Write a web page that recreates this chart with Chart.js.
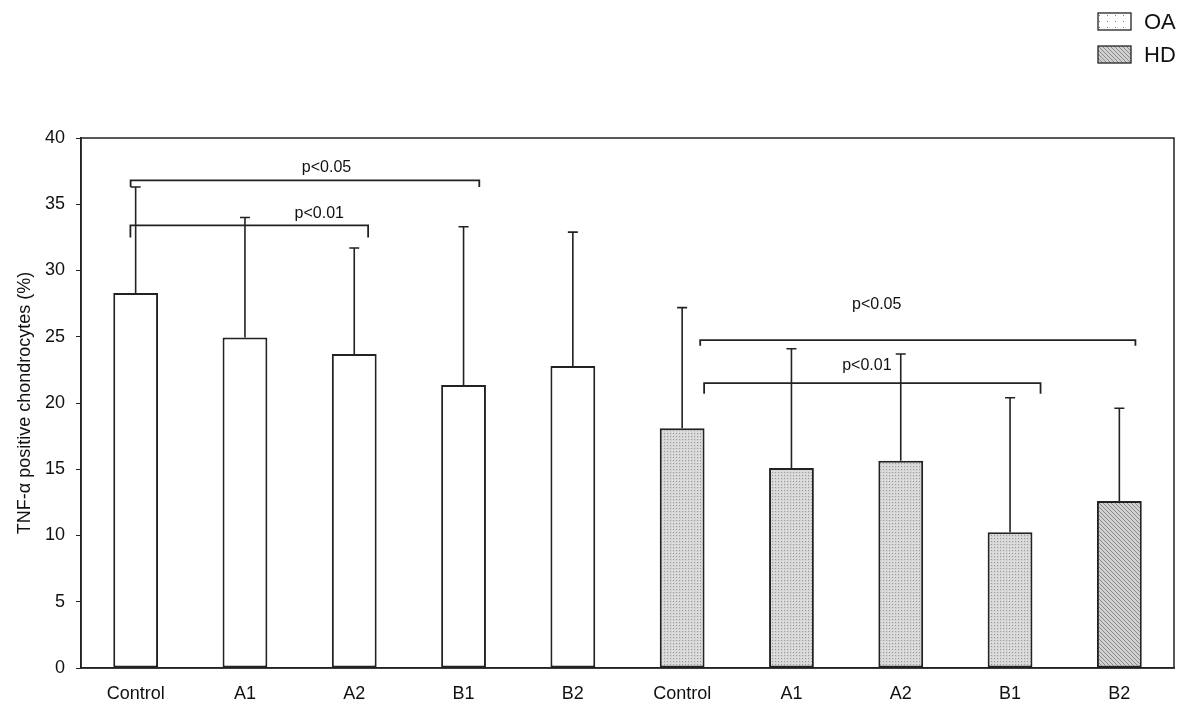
<!DOCTYPE html>
<html>
<head>
<meta charset="utf-8">
<script src="https://cdn.jsdelivr.net/npm/chart.js@4.4.1/dist/chart.umd.min.js"></script>
<style>
  html,body{margin:0;padding:0;background:#fff;}
  #wrap{width:1200px;height:709px;position:relative;}
</style>
</head>
<body>
<div id="wrap"><canvas id="c" width="1200" height="709"></canvas></div>
<script>
// categories (OA group then HD group)
const CATEGORIES = ['Control','A1','A2','B1','B2','Control','A1','A2','B1','B2'];
// mean % of TNF-alpha positive chondrocytes
const MEANS = [28.3, 24.95, 23.7, 21.35, 22.8, 18.1, 15.1, 15.65, 10.25, 12.6];
// standard deviation (drawn upwards only)
const SD = [8.0, 9.05, 8.0, 11.95, 10.1, 9.1, 9.0, 8.05, 10.15, 7.0];
// fill style per bar: white / stipple / hatch
const FILLS = ['white','white','white','white','white','stipple','stipple','stipple','stipple','hatch'];
const Y_TICKS = [0,5,10,15,20,25,30,35,40];
const LEGEND_LABELS = ['OA','HD'];
const LEGEND_FILLS = ['dots','hatch'];

// significance brackets: from/to are fractional category positions
const BRACKETS = [
  {from:-0.046, to:3.144, y:36.8, drop:36.3, label:'p<0.05', lx:1.746, ly:37.8},
  {from:-0.048, to:2.127, y:33.4, drop:32.5, label:'p<0.01', lx:1.68, ly:34.3},
  {from:5.165, to:9.147, y:24.75, drop:24.33, label:'p<0.05', lx:6.78, ly:27.4},
  {from:5.201, to:8.279, y:21.5, drop:20.7, label:'p<0.01', lx:6.69, ly:22.8}
];

const FONT = '"Liberation Sans", Arial, sans-serif';

function makePattern(kind){
  const cv = document.createElement('canvas');
  const ctx = cv.getContext('2d');
  if(kind === 'stipple'){
    cv.width = 3; cv.height = 3;
    ctx.fillStyle = '#d6d6d6'; ctx.fillRect(0,0,3,3);
    ctx.fillStyle = '#9a9a9a'; ctx.fillRect(1,1,1,1);
    ctx.fillStyle = '#e8e8e8'; ctx.fillRect(0,0,1,1);
  } else if(kind === 'hatch'){
    cv.width = 4; cv.height = 4;
    ctx.fillStyle = '#d0d0d0'; ctx.fillRect(0,0,4,4);
    ctx.fillStyle = '#8a8a8a';
    for(let i=0;i<4;i++) ctx.fillRect(i,i,1,1);
  } else if(kind === 'dots'){
    cv.width = 8; cv.height = 6;
    ctx.fillStyle = '#fff'; ctx.fillRect(0,0,8,6);
    ctx.fillStyle = '#777'; ctx.fillRect(3,3,1,1);
  } else {
    return '#ffffff';
  }
  return ctx.createPattern(cv,'repeat');
}

const catX = (chart, pos) => {
  const xs = chart.scales.x;
  const w = xs.getPixelForValue(1) - xs.getPixelForValue(0);
  return xs.getPixelForValue(0) + pos * w;
};

const extrasPlugin = {
  id:'extras',
  afterDatasetsDraw(chart){
    const ctx = chart.ctx, ys = chart.scales.y, a = chart.chartArea;
    const meta = chart.getDatasetMeta(0);
    ctx.save();
    // frame around the plot
    ctx.strokeStyle = '#222'; ctx.lineWidth = 1.5;
    ctx.strokeRect(a.left, a.top, a.right - a.left, a.bottom - a.top);
    // error bars
    ctx.lineWidth = 1.6; ctx.strokeStyle = '#222';
    meta.data.forEach((bar,i) => {
      const yTop = ys.getPixelForValue(MEANS[i] + SD[i]);
      const y0 = ys.getPixelForValue(MEANS[i]);
      ctx.beginPath();
      ctx.moveTo(bar.x, y0); ctx.lineTo(bar.x, yTop);
      ctx.moveTo(bar.x - 5, yTop); ctx.lineTo(bar.x + 5, yTop);
      ctx.stroke();
    });
    // brackets
    ctx.lineWidth = 1.8;
    ctx.font = '16px ' + FONT; ctx.fillStyle = '#111';
    ctx.textAlign = 'center'; ctx.textBaseline = 'middle';
    BRACKETS.forEach(b => {
      const x1 = catX(chart,b.from), x2 = catX(chart,b.to);
      const y = ys.getPixelForValue(b.y), yd = ys.getPixelForValue(b.drop);
      ctx.beginPath();
      ctx.moveTo(x1, yd); ctx.lineTo(x1, y); ctx.lineTo(x2, y); ctx.lineTo(x2, yd);
      ctx.stroke();
      ctx.fillText(b.label, catX(chart,b.lx), ys.getPixelForValue(b.ly));
    });
    // legend (top right)
    ctx.font = '22px ' + FONT; ctx.textAlign = 'left';
    LEGEND_LABELS.forEach((lab,i) => {
      const top = 13 + i*33;
      ctx.fillStyle = makePattern(LEGEND_FILLS[i]);
      ctx.fillRect(1098, top, 33, 17);
      ctx.lineWidth = 1.3; ctx.strokeStyle = '#222';
      ctx.strokeRect(1098, top, 33, 17);
      ctx.fillStyle = '#111';
      ctx.fillText(lab, 1144, top + 10);
    });
    ctx.restore();
  }
};

new Chart(document.getElementById('c'), {
  type:'bar',
  data:{
    labels: CATEGORIES,
    datasets:[{
      data: MEANS,
      backgroundColor: FILLS.map(makePattern),
      borderColor:'#222',
      borderWidth:2,
      borderSkipped:false,
      categoryPercentage:1,
      barPercentage:0.41
    }]
  },
  options:{
    responsive:false,
    animation:false,
    layout:{padding:{left:0,right:26,top:138,bottom:0}},
    plugins:{legend:{display:false}, tooltip:{enabled:false}},
    scales:{
      x:{
        grid:{display:false, drawTicks:false},
        border:{display:true, color:'#222', width:1.5},
        ticks:{font:{family:FONT,size:18}, color:'#111', padding:15, maxRotation:0},
        afterFit(s){ s.height = 41; }
      },
      y:{
        min:0, max:40,
        afterBuildTicks(s){ s.ticks = Y_TICKS.map(v => ({value:v})); },
        grid:{display:true, drawOnChartArea:false, drawTicks:true, tickLength:5, color:'#222'},
        border:{display:true, color:'#222', width:1.5},
        ticks:{font:{family:FONT,size:18}, color:'#111', padding:11},
        title:{display:true, text:'TNF-\u03b1 positive chondrocytes (%)', font:{family:FONT,size:18}, color:'#111', padding:{top:14,bottom:0}},
        afterFit(s){ s.width = 81; }
      }
    }
  },
  plugins:[extrasPlugin]
});
</script>
</body>
</html>
